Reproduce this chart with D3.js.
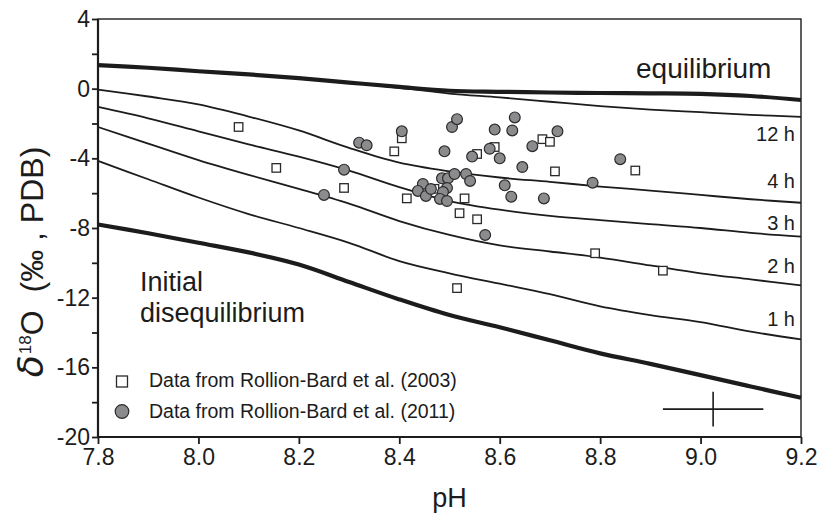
<!DOCTYPE html>
<html>
<head>
<meta charset="utf-8">
<script src="https://cdn.jsdelivr.net/npm/d3@7"></script>
<style>
  body { margin: 0; background: #fff; }
  svg { display: block; font-family: "Liberation Sans", Arial, sans-serif; }
</style>
</head>
<body>
<div id="vis"></div>
<script>
// pH grid on which the model curves were read
const pH = [7.8, 7.9, 8.0, 8.1, 8.2, 8.3, 8.4, 8.5, 8.6, 8.7, 8.8, 8.9, 9.0, 9.1, 9.2];

const equilibrium = [1.35, 1.2, 1.0, 0.82, 0.6, 0.35, 0.1, -0.12, -0.18, -0.22, -0.25, -0.27, -0.3, -0.42, -0.65];
const h12 = [1.35, 1.2, 1.0, 0.82, 0.6, 0.35, 0.05, -0.28, -0.5, -0.75, -1.0, -1.2, -1.35, -1.5, -1.62];
const h4 = [-0.05, -0.45, -0.9, -1.6, -2.4, -3.4, -4.25, -4.75, -5.1, -5.35, -5.62, -5.85, -6.1, -6.35, -6.55];
const h3 = [-1.05, -1.7, -2.45, -3.2, -3.9, -4.7, -5.65, -6.45, -6.95, -7.3, -7.55, -7.78, -8.0, -8.28, -8.5];
const h2 = [-2.2, -3.15, -4.1, -4.95, -5.75, -6.6, -7.6, -8.4, -9.0, -9.35, -9.7, -10.15, -10.6, -10.95, -11.3];
const h1 = [-4.15, -5.2, -6.25, -7.2, -8.0, -8.85, -9.9, -10.6, -11.2, -11.8, -12.5, -13.0, -13.4, -13.95, -14.4];
const initial = [-7.8, -8.3, -8.85, -9.4, -10.1, -11.1, -12.1, -13.0, -13.7, -14.45, -15.2, -15.8, -16.45, -17.1, -17.75];

const curveLabels = ["12 h", "4 h", "3 h", "2 h", "1 h"];
const curveLabelY = [-3.0, -5.7, -8.1, -10.6, -13.6];

// [pH, d18O]
const rb2003 = [
  [8.08, -2.2], [8.155, -4.55], [8.29, -5.7], [8.39, -3.6], [8.405, -2.85],
  [8.415, -6.3], [8.47, -5.75], [8.53, -6.3], [8.52, -7.15], [8.555, -3.75],
  [8.555, -7.5], [8.59, -3.35], [8.685, -2.9], [8.70, -3.05], [8.71, -4.75],
  [8.87, -4.7], [8.79, -9.45], [8.925, -10.45], [8.515, -11.45]
];
const rb2011 = [
  [8.25, -6.1], [8.29, -4.65], [8.32, -3.1], [8.335, -3.25], [8.405, -2.45],
  [8.505, -2.2], [8.515, -1.75], [8.63, -1.65], [8.59, -2.35], [8.625, -2.4],
  [8.715, -2.45], [8.49, -3.6], [8.545, -3.9], [8.58, -3.45], [8.60, -4.0],
  [8.665, -3.3], [8.645, -4.5], [8.84, -4.05], [8.785, -5.4],
  [8.485, -5.15], [8.497, -5.15], [8.51, -4.9], [8.533, -4.9], [8.541, -5.3],
  [8.447, -5.47], [8.437, -5.87], [8.453, -6.16], [8.463, -5.76], [8.495, -5.7],
  [8.487, -5.93], [8.481, -6.33], [8.495, -6.45], [8.61, -5.55], [8.623, -6.2],
  [8.688, -6.3], [8.571, -8.4]
];

// typical analytical uncertainty
const errCenter = [9.025, -18.4];
const errPH = 0.1, errD = 1.0;

const xTicks = [7.8, 8.0, 8.2, 8.4, 8.6, 8.8, 9.0, 9.2];
const yTicks = [-20, -18, -16, -14, -12, -10, -8, -6, -4, -2, 0, 2, 4];

const W = 823, H = 521;
const margin = { top: 19, right: 22, bottom: 84, left: 98 };

const svg = d3.select("#vis").append("svg").attr("width", W).attr("height", H);

const x = d3.scaleLinear().domain([7.8, 9.2]).range([margin.left, W - margin.right]);
const y = d3.scaleLinear().domain([-20, 4]).range([H - margin.bottom, margin.top]);

const ink = "#1c1c1c";

// curves
const line = d3.line().x(d => x(d[0])).y(d => y(d[1])).curve(d3.curveCatmullRom.alpha(0.5));
const thin = [h12, h4, h3, h2, h1];
svg.append("g").selectAll("path").data(thin).join("path")
  .attr("d", vals => line(pH.map((p, i) => [p, vals[i]])))
  .attr("fill", "none").attr("stroke", ink).attr("stroke-width", 1.8);
svg.append("g").selectAll("path").data([equilibrium, initial]).join("path")
  .attr("d", vals => line(pH.map((p, i) => [p, vals[i]])))
  .attr("fill", "none").attr("stroke", ink).attr("stroke-width", 4.2);

// curve labels
svg.append("g").selectAll("text").data(curveLabels).join("text")
  .attr("x", x(9.2) - 6).attr("y", (d, i) => y(curveLabelY[i]))
  .attr("text-anchor", "end").attr("font-size", 20).attr("fill", ink)
  .text(d => d);

svg.append("text").attr("x", 636).attr("y", 78).attr("font-size", 28).attr("fill", ink).text("equilibrium");
svg.append("text").attr("x", 140).attr("y", 291).attr("font-size", 27).attr("fill", ink).text("Initial");
svg.append("text").attr("x", 140).attr("y", 322).attr("font-size", 27).attr("fill", ink).text("disequilibrium");

// data
const sq = 8.5;
svg.append("g").selectAll("rect").data(rb2003).join("rect")
  .attr("x", d => x(d[0]) - sq / 2).attr("y", d => y(d[1]) - sq / 2)
  .attr("width", sq).attr("height", sq)
  .attr("fill", "#fff").attr("stroke", "#2a2a2a").attr("stroke-width", 1.3);
svg.append("g").selectAll("circle").data(rb2011).join("circle")
  .attr("cx", d => x(d[0])).attr("cy", d => y(d[1])).attr("r", 5.4)
  .attr("fill", "#8b8b8e").attr("stroke", "#2a2a2a").attr("stroke-width", 1.2);

// error cross
const err = svg.append("g").attr("stroke", ink).attr("stroke-width", 1.6);
err.append("line")
  .attr("x1", x(errCenter[0] - errPH)).attr("x2", x(errCenter[0] + errPH))
  .attr("y1", y(errCenter[1])).attr("y2", y(errCenter[1]));
err.append("line")
  .attr("x1", x(errCenter[0])).attr("x2", x(errCenter[0]))
  .attr("y1", y(errCenter[1] - errD)).attr("y2", y(errCenter[1] + errD));

// legend
const lg = svg.append("g").attr("font-size", 19.5).attr("fill", ink);
lg.append("rect").attr("x", 116.5).attr("y", 376).attr("width", 11).attr("height", 11)
  .attr("fill", "#fff").attr("stroke", "#2a2a2a").attr("stroke-width", 1.3);
lg.append("circle").attr("cx", 122).attr("cy", 411.5).attr("r", 6.8)
  .attr("fill", "#8b8b8e").attr("stroke", "#2a2a2a").attr("stroke-width", 1.2);
lg.append("text").attr("x", 149).attr("y", 387).text("Data from Rollion-Bard et al. (2003)");
lg.append("text").attr("x", 149).attr("y", 418).text("Data from Rollion-Bard et al. (2011)");

// frame
svg.append("rect")
  .attr("x", x(7.8)).attr("y", y(4))
  .attr("width", x(9.2) - x(7.8)).attr("height", y(-20) - y(4))
  .attr("fill", "none").attr("stroke", ink).attr("stroke-width", 1.4);

// axes
const xAxis = svg.append("g").attr("transform", `translate(0,${y(-20)})`)
  .call(d3.axisBottom(x).tickValues(xTicks).tickFormat(d3.format(".1f")).tickSize(7).tickPadding(5));
const yAxis = svg.append("g").attr("transform", `translate(${x(7.8)},0)`)
  .call(d3.axisLeft(y).tickValues(yTicks).tickFormat(d => d % 4 === 0 ? String(d) : "").tickSize(6).tickPadding(2));
[xAxis, yAxis].forEach(g => {
  g.select(".domain").attr("stroke", ink).attr("stroke-width", 2.2);
  g.selectAll(".tick line").attr("stroke", ink).attr("stroke-width", 1.8);
  g.selectAll(".tick text").attr("fill", ink).attr("font-size", 23)
    .attr("font-family", "'Liberation Sans', Arial, sans-serif");
});
xAxis.select(".domain").attr("d", `M${x(7.8)},0H${x(9.2)}`);
yAxis.select(".domain").attr("d", `M0,${y(-20)}V${y(4)}`);

// axis titles
svg.append("text").attr("x", (x(7.8) + x(9.2)) / 2).attr("y", 507)
  .attr("text-anchor", "middle").attr("font-size", 27).attr("fill", ink).text("pH");

const yt = svg.append("text")
  .attr("transform", `translate(43,${(y(-20) + y(4)) / 2 + 34}) rotate(-90)`)
  .attr("text-anchor", "middle").attr("font-size", 32).attr("fill", ink);
yt.append("tspan").attr("font-style", "italic").attr("font-size", 36)
  .attr("font-family", "'DejaVu Sans', sans-serif").text("δ");
yt.append("tspan").attr("font-size", 17).attr("dy", -12).attr("dx", 1).text("18");
yt.append("tspan").attr("dy", 12).text("O");
yt.append("tspan").attr("dx", 18).text("(‰ , PDB)");
</script>
</body>
</html>
